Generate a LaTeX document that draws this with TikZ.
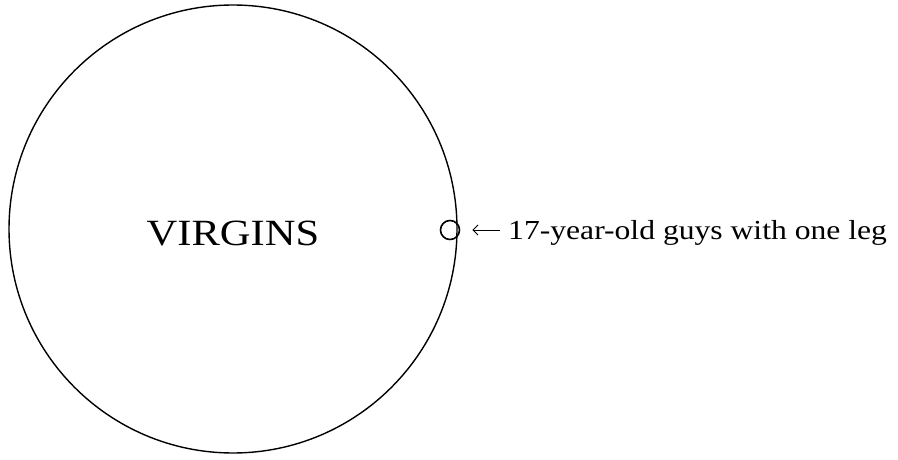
\documentclass[tikz,border=0pt]{standalone}
\usepackage{fontspec}
\setmainfont[FakeStretch=1.15]{Liberation Serif}
\usetikzlibrary{arrows.meta, positioning}

\begin{document}
\begin{tikzpicture}[x=1pt, y=1pt]
    \useasboundingbox (0,0) rectangle (898,459);
    \node[draw, circle, line width=1.4pt, minimum size=448pt, inner sep=0pt] (virgins) at (233,230) {};
    \node[font=\fontsize{37}{40}\selectfont, anchor=base, inner sep=0pt] (vlabel) at (233,214) {VIRGINS};
    \node[draw, circle, line width=1.6pt, minimum size=19pt, inner sep=0pt] (guys) at (450,229) {};
    \coordinate (tail) at (500,229);
    \node[font=\fontsize{27.5}{32}\selectfont, anchor=base west, inner sep=0pt] (glabel) at (508,220) {17-year-old guys with one leg};

    \draw[-{Straight Barb[length=5pt]}, line width=1pt, shorten >=12pt] (tail) -- (guys.east);
\end{tikzpicture}
\end{document}
